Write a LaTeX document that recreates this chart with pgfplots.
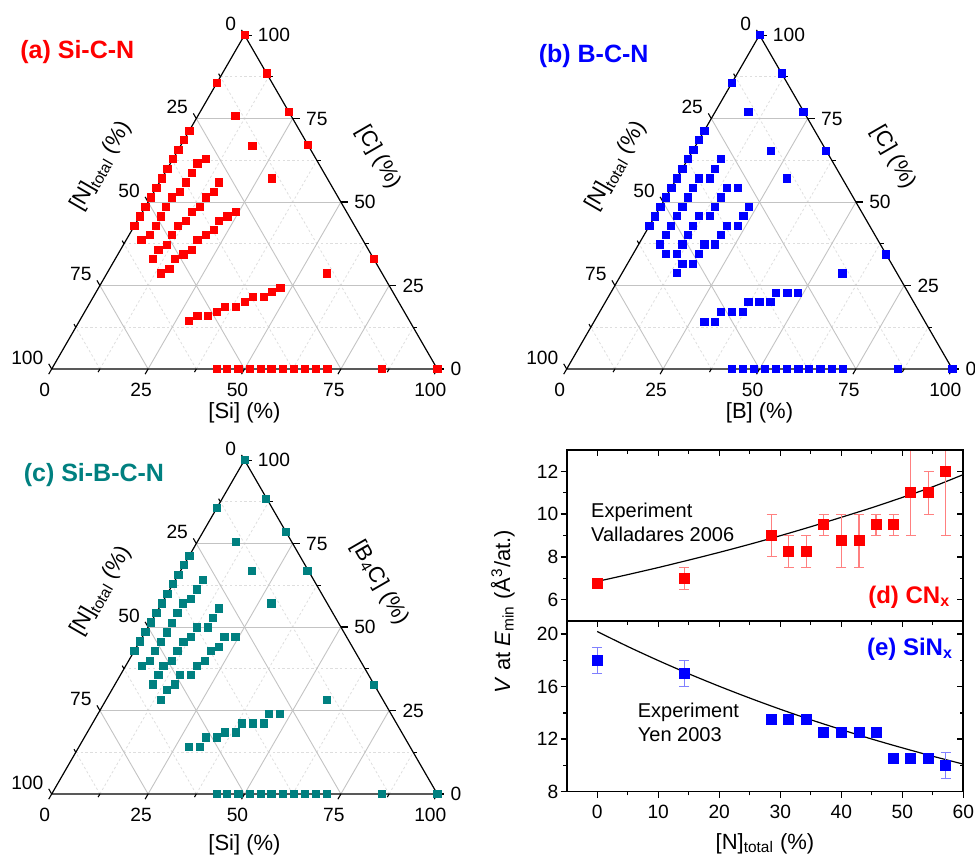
\documentclass[border=0pt]{standalone}
\usepackage{fontspec}
\setmainfont{Liberation Sans}
\usepackage{pgfplots}
\usepackage{pgfplotstable}
\pgfplotsset{compat=1.18}
\definecolor{tealc}{RGB}{0,128,128}
\definecolor{gmaj}{RGB}{195,195,195}
\definecolor{gmin}{RGB}{222,222,222}

% ---------- ternary data: S = [Si] or [B] (%), C = [C] or [B4C] (%) ----------
\pgfplotstableread{
S C
0 100
11.5 88.5
23 77
33 67
67 33
100 0
0 85.7
9.8 75.7
18.6 66.9
28.5 57.1
57 28.6
0 71.4
0 68.6
0 65.7
0 62.9
0 60.0
0 57.1
0 54.3
0 51.4
0 48.6
0 45.7
0 42.9
8.5 62.9
7.0 61.6
7.0 58.7
6.9 55.9
6.8 53.0
5.4 51.4
5.4 48.6
5.5 45.7
5.5 42.9
5.4 40.2
3.9 38.7
15.5 55.9
15.6 53.0
14.2 51.4
14.2 48.6
12.75 47.1
12.7 44.3
11.2 42.9
11.2 40.1
11.2 37.2
9.8 35.7
9.7 32.9
24.2 47.1
22.7 45.7
21.2 44.3
21.3 41.6
19.9 40.1
18.5 38.6
18.45 35.7
17.0 34.3
15.5 32.9
15.5 30.0
14.0 28.6
28.5 14.3
29.9 15.8
32.7 15.8
34.2 17.2
35.55 18.7
38.45 18.7
39.95 20.1
41.35 21.5
44.35 21.5
45.7 23.0
47.1 24.4
42.8 0
45.5 0
48.4 0
51.3 0
54.2 0
57.0 0
59.9 0
62.8 0
65.7 0
68.5 0
71.5 0
85.7 0
}\tabA

\pgfplotstableread{
S C
0 100
11.5 88.5
22.9 77.0
34.5 65.4
65.65 34.3
100 0
0 85.7
8.6 77.0
20.2 65.4
28.65 57.1
57.2 28.6
0 71.4
0 68.6
0 65.7
0 62.9
0 60.0
0 57.1
0 54.3
0 51.4
0 48.6
0 45.7
0 42.9
8.55 62.9
8.55 59.9
5.75 57.1
8.6 57.1
5.65 54.3
14.35 54.3
17.2 54.3
5.7 51.4
14.3 51.4
5.68 48.6
14.2 48.6
22.9 48.6
5.6 45.8
11.4 45.8
14.26 45.8
22.9 45.8
5.6 42.9
11.35 42.9
20.05 42.9
22.9 42.9
5.62 40.1
11.35 40.1
19.95 40.1
5.55 37.3
11.33 37.3
17.05 37.3
19.85 37.3
8.47 34.4
11.3 34.4
17.1 34.4
14.28 31.4
17.1 31.4
14.15 28.7
28.6 14.2
31.36 14.2
31.4 17.07
34.25 17.07
37.1 17.07
37.1 20.0
39.96 20.0
42.8 20.0
42.85 22.85
45.8 22.85
48.6 22.85
42.8 0
45.6 0
48.6 0
51.4 0
54.3 0
57.2 0
60.1 0
62.9 0
65.8 0
68.7 0
71.6 0
85.8 0
}\tabB

\pgfplotstableread{
S C
0 100
11.45 88.3
21.45 78.5
32.85 66.9
67.3 32.6
100 0
0 85.7
9.95 75.5
18.55 66.9
28.45 57.1
57.15 28.3
0 71.4
0 68.6
0 65.7
0 62.9
0 60.0
0 57.1
0 54.3
0 51.4
0 48.6
0 45.7
0 42.9
7.1 64.07
6.96 61.28
6.94 58.38
5.43 57.09
5.44 54.29
5.46 51.3
5.62 48.4
5.46 45.6
5.4 42.8
5.55 39.9
4.14 38.4
15.6 55.59
15.5 52.79
15.5 49.9
12.65 49.9
12.63 47.0
11.34 45.6
11.18 42.8
11.16 39.9
9.75 38.4
9.86 35.6
9.79 32.8
24.12 47.0
21.27 47.0
21.34 44.1
19.83 42.8
19.81 39.9
18.4 38.4
18.33 35.6
15.48 35.6
15.58 32.8
14.27 31.1
14.11 28.3
28.52 14.17
31.37 14.17
31.44 16.97
34.29 16.97
35.71 18.46
38.57 18.46
38.69 21.16
41.54 21.16
44.39 21.16
44.37 23.95
47.22 23.95
42.8 0
45.5 0
48.4 0
51.3 0
54.2 0
57.0 0
59.9 0
62.8 0
65.7 0
68.5 0
71.3 0
85.7 0
}\tabC

% ---------- panels (d) and (e) ----------
\pgfplotstableread{
x y e
0 6.75 0
14.3 7.0 0.5
28.6 9.0 1.0
31.4 8.25 0.75
34.3 8.25 0.75
37.1 9.5 0.5
40.0 8.75 1.25
42.9 8.75 1.25
45.7 9.5 0.5
48.6 9.5 0.5
51.4 11.0 2.0
54.3 11.0 1.0
57.1 12.0 3.0
}\dataD

\pgfplotstableread{
x y
0 6.85
5 7.17
10 7.50
15 7.85
20 8.21
25 8.59
30 8.99
35 9.41
40 9.85
45 10.30
50 10.78
55 11.28
60 11.85
}\fitD

\pgfplotstableread{
x y e
0 18.0 1.0
14.3 17.0 1.0
28.6 13.5 0.3
31.4 13.5 0.3
34.3 13.5 0.3
37.1 12.5 0.3
40.0 12.5 0.3
42.9 12.5 0.3
45.7 12.5 0.3
48.6 10.5 0.3
51.4 10.5 0.3
54.3 10.5 0.3
57.1 10.0 1.0
}\dataE

\pgfplotstableread{
x y
0 20.2
5 19.06
10 17.99
15 16.98
20 16.03
25 15.13
30 14.28
35 13.48
40 12.73
45 12.01
50 11.34
55 10.70
60 10.10
}\fitE

\tikzset{
  gmajor/.style={gmaj, line width=0.45pt},
  gminor/.style={gmin, line width=0.4pt, dash pattern=on 1.2pt off 1.2pt},
  ttick/.style={black, line width=0.55pt},
  tlab/.style={font=\fontsize{9.6}{11}\selectfont, inner sep=0pt},
  ttl/.style={font=\fontsize{11}{13}\selectfont, inner sep=0pt},
}

\newcommand{\tk}[3]{\draw[ttick] (axis cs:#1) -- ++(#2:#3);}

\newcommand{\ternframe}{%
  \draw[gminor] (axis cs:6.25,10.825) -- (axis cs:93.75,10.825);
  \draw[gminor] (axis cs:18.75,32.476) -- (axis cs:81.25,32.476);
  \draw[gminor] (axis cs:31.25,54.127) -- (axis cs:68.75,54.127);
  \draw[gminor] (axis cs:43.75,75.777) -- (axis cs:56.25,75.777);
  \draw[gminor] (axis cs:12.5,0) -- (axis cs:56.25,75.777);
  \draw[gminor] (axis cs:37.5,0) -- (axis cs:68.75,54.127);
  \draw[gminor] (axis cs:62.5,0) -- (axis cs:81.25,32.476);
  \draw[gminor] (axis cs:87.5,0) -- (axis cs:93.75,10.825);
  \draw[gminor] (axis cs:87.5,0) -- (axis cs:43.75,75.777);
  \draw[gminor] (axis cs:62.5,0) -- (axis cs:31.25,54.127);
  \draw[gminor] (axis cs:37.5,0) -- (axis cs:18.75,32.476);
  \draw[gminor] (axis cs:12.5,0) -- (axis cs:6.25,10.825);
  \draw[gmajor] (axis cs:12.5,21.651) -- (axis cs:87.5,21.651);
  \draw[gmajor] (axis cs:25,43.301) -- (axis cs:75,43.301);
  \draw[gmajor] (axis cs:37.5,64.952) -- (axis cs:62.5,64.952);
  \draw[gmajor] (axis cs:25,0) -- (axis cs:62.5,64.952);
  \draw[gmajor] (axis cs:50,0) -- (axis cs:75,43.301);
  \draw[gmajor] (axis cs:75,0) -- (axis cs:87.5,21.651);
  \draw[gmajor] (axis cs:75,0) -- (axis cs:37.5,64.952);
  \draw[gmajor] (axis cs:50,0) -- (axis cs:25,43.301);
  \draw[gmajor] (axis cs:25,0) -- (axis cs:12.5,21.651);
  \draw[black, line width=0.6pt, line join=round] (axis cs:0,0) -- (axis cs:100,0) -- (axis cs:50,86.603) -- cycle;
  % bottom ticks
  \tk{0,0}{240}{3pt}\tk{25,0}{240}{3pt}\tk{50,0}{240}{3pt}\tk{75,0}{240}{3pt}\tk{100,0}{240}{3pt}
  \tk{12.5,0}{240}{1.8pt}\tk{37.5,0}{240}{1.8pt}\tk{62.5,0}{240}{1.8pt}\tk{87.5,0}{240}{1.8pt}
  % right ticks
  \tk{100,0}{0}{3.5pt}\tk{87.5,21.651}{0}{3.5pt}\tk{75,43.301}{0}{3.5pt}\tk{62.5,64.952}{0}{3.5pt}\tk{50,86.603}{0}{3.5pt}
  \tk{93.75,10.825}{0}{2pt}\tk{81.25,32.476}{0}{2pt}\tk{68.75,54.127}{0}{2pt}\tk{56.25,75.777}{0}{2pt}
  % left ticks
  \tk{50,86.603}{120}{3pt}\tk{37.5,64.952}{120}{3pt}\tk{25,43.301}{120}{3pt}\tk{12.5,21.651}{120}{3pt}\tk{0,0}{120}{3pt}
  \tk{43.75,75.777}{120}{1.8pt}\tk{31.25,54.127}{120}{1.8pt}\tk{18.75,32.476}{120}{1.8pt}\tk{6.25,10.825}{120}{1.8pt}
  % tick labels
  \node[tlab, anchor=north, xshift=-3.5pt, yshift=-7pt] at (axis cs:0,0) {0};
  \node[tlab, anchor=north, xshift=-3.5pt, yshift=-7pt] at (axis cs:25,0) {25};
  \node[tlab, anchor=north, xshift=-3.5pt, yshift=-7pt] at (axis cs:50,0) {50};
  \node[tlab, anchor=north, xshift=-3.5pt, yshift=-7pt] at (axis cs:75,0) {75};
  \node[tlab, anchor=north, xshift=-3.5pt, yshift=-7pt] at (axis cs:100,0) {100};
  \node[tlab, anchor=west, xshift=6.5pt] at (axis cs:100,0) {0};
  \node[tlab, anchor=west, xshift=6.5pt] at (axis cs:87.5,21.651) {25};
  \node[tlab, anchor=west, xshift=6.5pt] at (axis cs:75,43.301) {50};
  \node[tlab, anchor=west, xshift=6.5pt] at (axis cs:62.5,64.952) {75};
  \node[tlab, anchor=west, xshift=6.5pt] at (axis cs:50,86.603) {100};
  \node[tlab, anchor=base east, xshift=-4pt, yshift=2.3pt] at (axis cs:50,86.603) {0};
  \node[tlab, anchor=base east, xshift=-4pt, yshift=2.3pt] at (axis cs:37.5,64.952) {25};
  \node[tlab, anchor=base east, xshift=-4pt, yshift=2.3pt] at (axis cs:25,43.301) {50};
  \node[tlab, anchor=base east, xshift=-4pt, yshift=2.3pt] at (axis cs:12.5,21.651) {75};
  \node[tlab, anchor=base east, xshift=-4pt, yshift=2.3pt] at (axis cs:0,0) {100};
  \node[ttl, rotate=60] at (axis cs:12.9,52.6) {[N]\textsubscript{total} (\%)};
}

\pgfplotsset{
  tern/.style={scale only axis, anchor=south west, width=192.8pt, height=166.95pt,
    xmin=0, xmax=100, ymin=0, ymax=86.6025, hide axis, clip=false},
  ternpts/.style={only marks, mark=square*, mark size=1.8pt},
  deaxis/.style={scale only axis, anchor=south west, width=198.3pt,
    xmin=-5, xmax=60, xtick={0,10,...,60}, minor x tick num=1, minor y tick num=1,
    major tick length=3pt, minor tick length=1.8pt,
    axis line style={line width=0.8pt}, tick style={black, line width=0.7pt},
    tick label style={font=\fontsize{9.6}{11}\selectfont},
    yticklabel style={inner sep=1pt},
    /pgf/number format/assume math mode=true},
  demain/.style={deaxis, tick align=outside, xtick pos=lower, ytick pos=left},
  deover/.style={deaxis, tick align=inside, xtick pos=upper, ytick pos=right,
    xticklabels={}, yticklabels={}},
}

\begin{document}
\begin{tikzpicture}
\useasboundingbox (0,0) rectangle (487.5pt,428.5pt);

% (a)
\begin{axis}[tern, at={(25.85pt,244pt)}]
  \ternframe
  \node[ttl, rotate=-60] at (axis cs:84.7,55) {[C] (\%)};
  \node[ttl] at (axis cs:50,-11.4) {[Si] (\%)};
  \addplot[ternpts, red] table[x expr=\thisrow{S}+0.5*\thisrow{C}, y expr=0.866025*\thisrow{C}] {\tabA};
\end{axis}
\node[anchor=west, inner sep=0pt, text=red, font=\bfseries\fontsize{12.5}{14}\selectfont] at (10pt,402.5pt) {(a) Si-C-N};

% (b)
\begin{axis}[tern, at={(283.35pt,244pt)}]
  \ternframe
  \node[ttl, rotate=-60] at (axis cs:84.7,55) {[C] (\%)};
  \node[ttl] at (axis cs:50,-11.4) {[B] (\%)};
  \addplot[ternpts, blue] table[x expr=\thisrow{S}+0.5*\thisrow{C}, y expr=0.866025*\thisrow{C}] {\tabB};
\end{axis}
\node[anchor=west, inner sep=0pt, text=blue, font=\bfseries\fontsize{12.5}{14}\selectfont] at (269.2pt,400.5pt) {(b) B-C-N};

% (c)
\begin{axis}[tern, at={(25.85pt,31.5pt)}]
  \ternframe
  \node[ttl, rotate=-60] at (axis cs:85.1,54.8) {[B\textsubscript{4}C] (\%)};
  \node[ttl] at (axis cs:50,-13.2) {[Si] (\%)};
  \addplot[ternpts, tealc] table[x expr=\thisrow{S}+0.5*\thisrow{C}, y expr=0.866025*\thisrow{C}] {\tabC};
\end{axis}
\node[anchor=west, inner sep=0pt, text=tealc, font=\bfseries\fontsize{12.5}{14}\selectfont] at (11.7pt,191pt) {(c) Si-B-C-N};

% (d)
\begin{axis}[demain, at={(283.35pt,118pt)}, height=85.5pt, ymin=5, ymax=13, ytick={6,8,10,12}, xticklabels={}]
  \addplot[black, line width=0.6pt, smooth] table[x=x, y=y] {\fitD};
  \addplot[only marks, mark=square*, mark size=2.5pt, red,
    error bars/.cd, y dir=both, y explicit, error bar style={red!50, line width=0.6pt}]
    table[x=x, y=y, y error=e] {\dataD};
  \node[anchor=west, align=left, inner sep=0pt, font=\fontsize{10}{12}\selectfont] at (axis cs:-1.05,9.63) {Experiment\\Valladares 2006};
  \node[anchor=base east, inner sep=0pt, text=red, font=\bfseries\fontsize{12}{14}\selectfont] at (rel axis cs:0.968,0.105) {(d) CN\textsubscript{x}};
\end{axis}
\begin{axis}[deover, at={(283.35pt,118pt)}, height=85.5pt, ymin=5, ymax=13, ytick={6,8,10,12}]
\end{axis}

% (e)
\begin{axis}[demain, at={(283.35pt,32.65pt)}, height=85.35pt, ymin=8, ymax=21, ytick={8,12,16,20}]
  \addplot[black, line width=0.6pt, smooth] table[x=x, y=y] {\fitE};
  \addplot[only marks, mark=square*, mark size=2.5pt, blue,
    error bars/.cd, y dir=both, y explicit, error bar style={blue!50, line width=0.6pt}]
    table[x=x, y=y, y error=e] {\dataE};
  \node[anchor=west, align=left, inner sep=0pt, font=\fontsize{10}{12}\selectfont] at (axis cs:6.6,13.3) {Experiment\\Yen 2003};
  \node[anchor=base east, inner sep=0pt, text=blue, font=\bfseries\fontsize{12}{14}\selectfont] at (rel axis cs:0.975,0.80) {(e) SiN\textsubscript{x}};
\end{axis}
\begin{axis}[deover, at={(283.35pt,32.65pt)}, height=85.35pt, ymin=8, ymax=21, ytick={8,12,16,20}]
\end{axis}

\node[anchor=base, rotate=90, inner sep=0pt, font=\fontsize{11}{13}\selectfont] at (255pt,122.65pt) {\textit{V} at \textit{E}\textsubscript{min} (Å\textsuperscript{3}/at.)};
\node[anchor=base, inner sep=0pt, font=\fontsize{11}{13}\selectfont] at (382.5pt,3.85pt) {[N]\textsubscript{total} (\%)};
\end{tikzpicture}
\end{document}
